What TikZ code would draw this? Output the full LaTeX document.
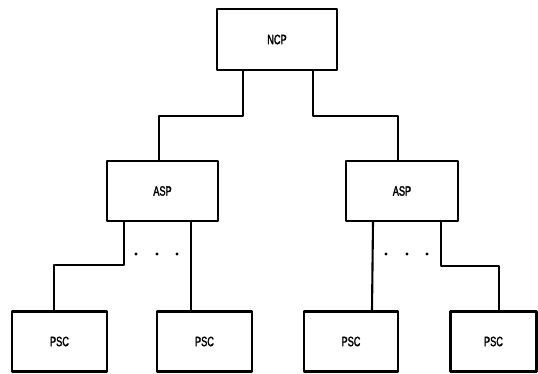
\documentclass[tikz,border=0pt]{standalone}
\usepackage{fontspec}
\setmainfont{Liberation Sans}[FakeStretch=0.68,FakeBold=2]
\begin{document}
\begin{tikzpicture}[x=1pt,y=-1pt,
  box/.style={draw,line width=2.1pt,line join=round,inner sep=0pt,font=\fontsize{13.5}{15}\selectfont},
  link/.style={draw,line width=2.1pt,line join=round},
  dot/.style={fill=black}]
\useasboundingbox (0,0) rectangle (538,373);
\node[box,minimum width=120,minimum height=61] (ncp) at (277,39.5) {NCP};
\node[box,minimum width=111,minimum height=60] (aspL) at (162.5,191) {ASP};
\node[box,minimum width=112,minimum height=60] (aspR) at (402,191) {ASP};
\node[box,minimum width=95,minimum height=60] (psc1) at (59.5,341.5) {PSC};
\node[box,minimum width=95,minimum height=60] (psc2) at (204.5,341.5) {PSC};
\node[box,minimum width=94,minimum height=60] (psc3) at (351,341.5) {PSC};
\node[box,minimum width=86,minimum height=60] (psc4) at (493.5,341.5) {PSC};
\draw[link] ([xshift=-34]ncp.south) -- ++(0,45) -| ([xshift=-3.5]aspL.north);
\draw[link] ([xshift=36]ncp.south) -- ++(0,45) -| ([xshift=-4]aspR.north);
\draw[link] ([xshift=-38.5]aspL.south) -- ++(0,43) -| ([xshift=-5.5]psc1.north);
\draw[link] ([xshift=28.5]aspL.south) -- ([xshift=-13.5]psc2.north);
\draw[link] ([xshift=-29]aspR.south) -- ([xshift=21]psc3.north);
\draw[link] ([xshift=39]aspR.south) -- ++(0,44) -| ([xshift=5.5]psc4.north);
\foreach \x in {136,157,177,386,407,427} \fill[dot] (\x,254) circle (1.7);
\end{tikzpicture}
\end{document}
